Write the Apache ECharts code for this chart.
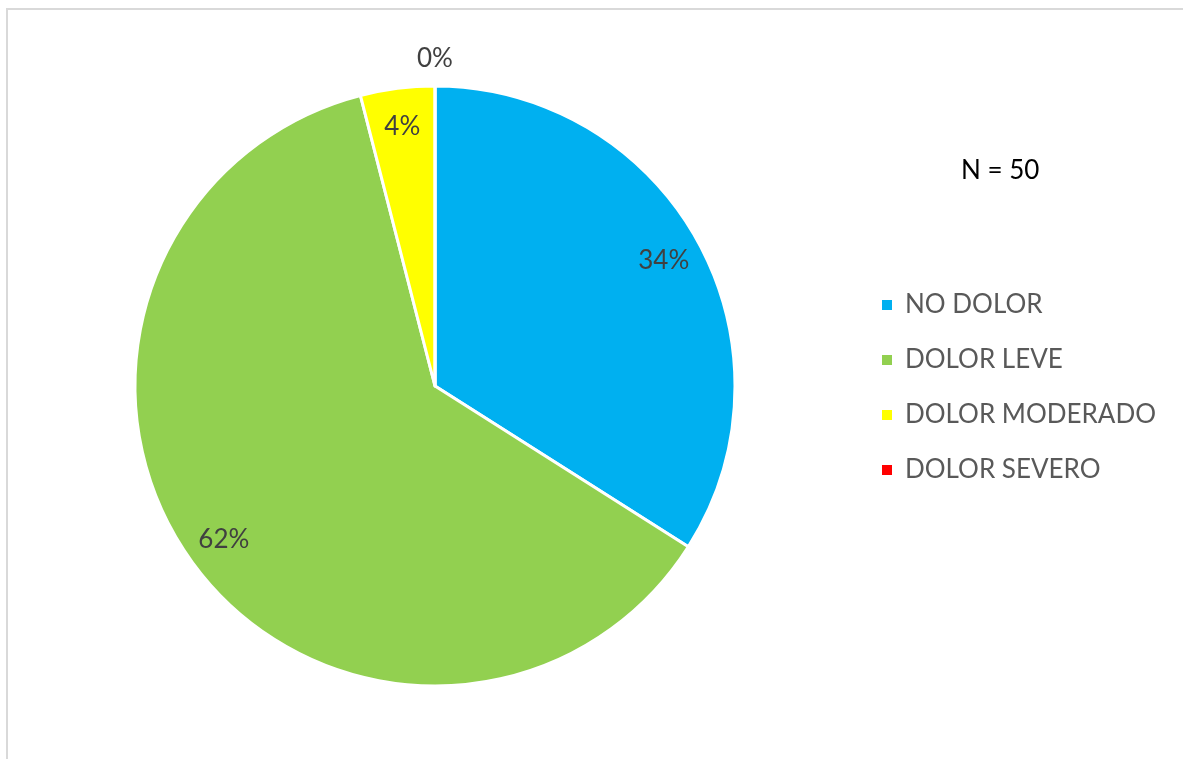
<!DOCTYPE html>
<html>
<head>
<meta charset="utf-8">
<script src="https://cdn.jsdelivr.net/npm/echarts@6/dist/echarts.min.js"></script>
<style>
  html, body { margin: 0; padding: 0; background: #ffffff; }
  #chart { width: 1183px; height: 759px; }
</style>
</head>
<body>
<div id="chart"></div>
<script>
// Pain level distribution among patients
const categories = ['NO DOLOR', 'DOLOR LEVE', 'DOLOR MODERADO', 'DOLOR SEVERO'];
const counts = [17, 31, 2, 0];
const colors = ['#00B0F0', '#92D050', '#FFFF00', '#FF0000'];
const sampleSize = counts.reduce((a, b) => a + b, 0);

const FONT = 'Lato, "Open Sans", sans-serif';
const CENTER = [435, 386];
const R = 300;

const sliceData = categories.map((name, i) => ({
  name,
  value: counts[i],
  itemStyle: { color: colors[i] }
}));
const ghostData = categories.map((name, i) => ({
  name,
  value: counts[i],
  itemStyle: { color: 'rgba(0,0,0,0)', borderWidth: 0 }
}));
const pctText = p => Math.round(p.percent) + '%';

const chart = echarts.init(document.getElementById('chart'), null, { renderer: 'canvas' });
chart.setOption({
  backgroundColor: '#ffffff',
  animation: false,
  title: {
    text: 'N = ' + sampleSize,
    left: 956,
    top: 153,
    textStyle: { fontFamily: FONT, fontSize: 26, fontWeight: 'normal', color: '#000000' }
  },
  legend: {
    orient: 'vertical',
    left: 875,
    top: 285,
    itemWidth: 12,
    itemHeight: 12,
    itemGap: 25,
    icon: 'rect',
    selectedMode: false,
    data: categories.map((name, i) => ({ name, itemStyle: { color: colors[i] } })),
    textStyle: {
      fontFamily: FONT, fontSize: 26, color: '#595959',
      lineHeight: 30, padding: [0, 0, 0, 7]
    }
  },
  graphic: [{
    type: 'rect',
    shape: { x: 7, y: 9, width: 1300, height: 900 },
    style: { fill: 'none', stroke: '#D9D9D9', lineWidth: 2 },
    silent: true
  }],
  series: [
    {
      // the slices themselves
      type: 'pie',
      center: CENTER,
      radius: [0, R],
      startAngle: 90,
      clockwise: true,
      silent: true,
      label: { show: false },
      labelLine: { show: false },
      itemStyle: { borderColor: '#ffffff', borderWidth: 3 },
      data: sliceData
    },
    {
      // percentage labels inside the non-empty slices
      type: 'pie',
      center: CENTER,
      radius: [216, R],
      startAngle: 90,
      clockwise: true,
      silent: true,
      label: {
        show: true,
        position: 'inside',
        fontFamily: FONT,
        fontSize: 26,
        color: '#404040',
        formatter: p => (p.value > 0 ? pctText(p) : '')
      },
      labelLine: { show: false },
      data: ghostData
    },
    {
      // labels for empty categories, just outside the rim
      type: 'pie',
      center: CENTER,
      radius: [R, 348],
      startAngle: 90,
      clockwise: true,
      silent: true,
      label: {
        show: true,
        position: 'inside',
        fontFamily: FONT,
        fontSize: 26,
        color: '#404040',
        formatter: p => (p.value > 0 ? '' : pctText(p))
      },
      labelLine: { show: false },
      data: ghostData
    }
  ]
});
</script>
</body>
</html>
